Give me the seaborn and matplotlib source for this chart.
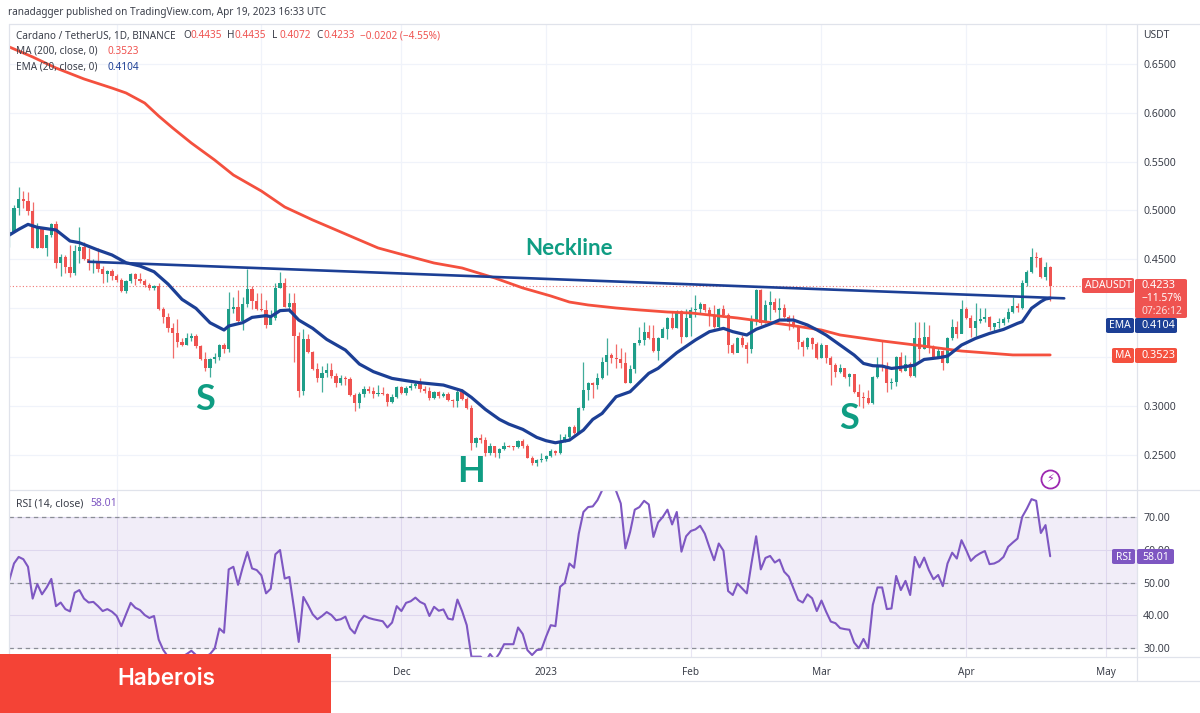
import pandas as pd
import numpy as np
import matplotlib
matplotlib.use("Agg")
import matplotlib.pyplot as plt
import seaborn as sns
from matplotlib.lines import Line2D
from matplotlib.patches import FancyBboxPatch, Rectangle

W, H = 1200, 713

# daily candles, Sep 8 2022 -> Apr 19 2023
first_day = "2022-09-08"
first_open = 0.4760
closes = [
    .4783, .5022, .5118, .5101, .4998, .4620, .4835, .4620, .4749, .4862, .4466, .4521, .4419, .4364, .4589,
    .4623, .4504, .4459, .4476, .4398, .4347, .4381, .4330, .4289, .4176, .4279, .4347, .4296, .4282, .4234,
    .4211, .4231, .3992, .3907, .3801, .3750, .3658, .3624, .3699, .3716, .3617, .3481, .3385, .3481, .3505,
    .3624, .3580, .3989, .4017, .3867, .4044, .4197, .4078, .3989, .3982, .3829, .3897, .4204, .4255, .4017,
    .4051, .3717, .3157, .3682, .3556, .3376, .3283, .3335, .3369, .3307, .3232, .3283, .3273, .3113, .3034,
    .3120, .3174, .3157, .3123, .3137, .3123, .3045, .3096, .3191, .3130, .3181, .3205, .3222,
    .3170, .3154, .3079, .3140, .3103, .3120, .3062, .3055, .3143, .3068, .2980, .2625, .2669, .2652, .2516,
    .2591, .2516, .2557, .2594, .2584, .2581, .2646, .2591, .2472, .2421, .2448, .2455, .2489, .2540, .2516,
    .2646, .2686, .2782, .2727, .2977, .3164, .3232, .3215, .3283, .3454, .3522, .3488, .3480, .3437, .3239,
    .3376, .3642, .3676, .3761, .3693, .3567, .3693, .3785, .3897, .3795, .3972, .3703, .3897, .3983, .3989,
    .4044, .3983, .3921, .3805, .3989, .3931, .3625, .3546, .3693, .3625, .3580, .3880, .4187, .3846, .4034,
    .4068, .3983, .4000, .3914, .3863, .3812, .3659, .3607, .3693, .3635, .3488, .3625, .3488, .3420, .3352,
    .3385, .3293, .3324, .3147, .3096, .3078, .3034, .3300, .3419, .3396, .3232, .3249, .3498, .3361, .3430,
    .3307, .3692, .3580, .3709, .3590, .3498, .3563, .3443, .3692, .3805, .3737, .3989, .3897, .3801, .3873,
    .3887, .3907, .3812, .3846, .3853, .3890, .3965, .4023, .3999, .4255, .4375, .4521, .4511, .4324, .4426,
    .4233,
]
highs = [
    .4818, .5056, .5244, .5199, .5193, .5090, .4869, .4835, .4749, .4876, .4896, .4555, .4545, .4647, .4647,
    .4828, .4681, .4620, .4500, .4613, .4432, .4391, .4398, .4350, .4306, .4289, .4364, .4364, .4357, .4299,
    .4255, .4241, .4255, .4016, .3948, .3846, .3887, .3692, .3743, .3750, .3737, .3624, .3549, .3494, .3539,
    .3635, .3648, .4170, .4119, .4187, .4112, .4399, .4228, .4153, .4153, .4085, .3982, .4255, .4375, .4306,
    .4153, .4153, .3761, .3785, .3737, .3566, .3437, .3410, .3444, .3437, .3335, .3318, .3311, .3300, .3130,
    .3147, .3205, .3205, .3191, .3215, .3198, .3130, .3123, .3205, .3205, .3205, .3239, .3260,
    .3283, .3205, .3198, .3154, .3157, .3147, .3147, .3068, .3164, .3171, .3089, .3010, .2680, .2710, .2687,
    .2618, .2591, .2567, .2635, .2601, .2591, .2652, .2659, .2611, .2489, .2455, .2516, .2499, .2557, .2550,
    .2710, .2710, .2796, .2802, .2993, .3454, .3249, .3243, .3335, .3505, .3693, .3539, .3631, .3590, .3556,
    .3420, .3648, .3812, .3863, .3829, .3829, .3710, .3812, .3914, .3965, .3983, .3983, .3993, .4010, .4136,
    .4068, .4044, .4017, .4034, .4000, .4034, .3948, .3642, .3703, .3727, .3659, .3931, .4194, .4201, .4085,
    .4180, .4109, .4102, .4044, .3931, .3931, .3829, .3676, .3703, .3703, .3659, .3642, .3625, .3512, .3444,
    .3430, .3375, .3341, .3317, .3225, .3147, .3164, .3307, .3505, .3675, .3454, .3283, .3511, .3556, .3522,
    .3454, .3863, .3863, .3863, .3829, .3624, .3607, .3573, .3702, .3887, .3873, .4084, .4016, .3931, .4050,
    .3999, .3999, .3921, .3853, .3897, .3914, .3999, .4112, .4057, .4289, .4392, .4613, .4573, .4521, .4470,
    .4435,
]
lows = [
    .4630, .4801, .4954, .5022, .4954, .4613, .4613, .4613, .4535, .4725, .4408, .4330, .4357, .4323, .4340,
    .4459, .4494, .4391, .4364, .4374, .4255, .4272, .4289, .4272, .4170, .4153, .4255, .4238, .4255, .4221,
    .4187, .4187, .3982, .3846, .3760, .3488, .3607, .3614, .3624, .3668, .3590, .3471, .3362, .3300, .3437,
    .3471, .3539, .3556, .3948, .3863, .3778, .4017, .3989, .3982, .3976, .3802, .3839, .3880, .4204, .4010,
    .3965, .3454, .3096, .3113, .3546, .3369, .3249, .3147, .3294, .3283, .3191, .3215, .3215, .3103, .2953,
    .2983, .3096, .3130, .3079, .3103, .3113, .3000, .3035, .3079, .3123, .3113, .3164, .3181,
    .3147, .3130, .3062, .3068, .3079, .3096, .3055, .2993, .2987, .3062, .2966, .2550, .2584, .2625, .2489,
    .2499, .2475, .2468, .2550, .2577, .2550, .2567, .2567, .2465, .2397, .2386, .2431, .2438, .2475, .2499,
    .2509, .2635, .2669, .2714, .2738, .2959, .3062, .3079, .3171, .3273, .3318, .3444, .3386, .3386, .3232,
    .3239, .3335, .3625, .3625, .3683, .3556, .3471, .3710, .3683, .3785, .3795, .3648, .3703, .3717, .3908,
    .3955, .3965, .3819, .3795, .3795, .3914, .3539, .3532, .3556, .3607, .3444, .3546, .3829, .3829, .3846,
    .3880, .3965, .3880, .3897, .3778, .3795, .3580, .3512, .3580, .3580, .3478, .3488, .3444, .3215, .3301,
    .3341, .3283, .3205, .3136, .3000, .2976, .3020, .3020, .3283, .3361, .3147, .3171, .3205, .3351, .3361,
    .3300, .3300, .3471, .3580, .3539, .3488, .3488, .3368, .3436, .3675, .3692, .3743, .3887, .3709, .3716,
    .3846, .3863, .3778, .3760, .3795, .3829, .3863, .3955, .3965, .3989, .4228, .4365, .4426, .4313, .4289,
    .4072,
]

# EMA 20 / MA 200 read at these day offsets from first_day
ema_days = [0, 2, 4, 6, 9, 10, 13, 15, 19, 22, 25, 28, 31, 34, 37, 40, 43, 46, 47, 50, 52, 55, 56, 58, 60, 62,
            65, 68, 72, 75, 78, 82, 85, 88, 93, 97, 99, 102, 105, 107, 110, 113, 115, 117, 120, 122, 123, 125,
            127, 130, 133, 137, 139, 143, 147, 150, 153, 155, 158, 160, 163, 165, 168, 171, 173, 175, 178, 181,
            183, 185, 187, 189, 191, 194, 196, 199, 201, 204, 207, 210, 213, 216, 217, 218, 219, 221, 222, 223]
ema_vals = [.4749, .4807, .4858, .4828, .4807, .4801, .4688, .4671, .4596, .4545, .4466, .4432, .4374, .4248,
            .4091, .3999, .3852, .3778, .3819, .3853, .3907, .3925, .3914, .3976, .3982, .3880, .3795, .3682,
            .3573, .3430, .3352, .3283, .3260, .3239, .3215, .3157, .3089, .2966, .2864, .2816, .2762, .2680,
            .2646, .2625, .2652, .2721, .2755, .2864, .2925, .3096, .3147, .3335, .3386, .3546, .3676, .3761,
            .3795, .3761, .3727, .3785, .3839, .3880, .3880, .3829, .3780, .3726, .3624, .3522, .3436, .3413,
            .3409, .3385, .3396, .3419, .3477, .3494, .3511, .3624, .3692, .3743, .3784, .3846, .3863, .3931,
            .4000, .4068, .4095, .4104]
ma_days = [0, 5, 10, 16, 22, 25, 29, 32, 35, 39, 44, 48, 54, 59, 65, 70, 74, 79, 83, 87, 91, 97, 104, 110, 116,
           120, 124, 130, 135, 141, 146, 156, 167, 174, 178, 187, 194, 204, 215, 223]
ma_vals = [.6672, .6570, .6457, .6345, .6252, .6202, .6099, .5966, .5844, .5690, .5516, .5363, .5199, .5036,
           .4903, .4801, .4719, .4617, .4565, .4514, .4463, .4412, .4310, .4208, .4126, .4064, .4034, .4003,
           .3983, .3962, .3952, .3901, .3829, .3778, .3727, .3666, .3625, .3563, .3523, .3523]
neck_days = [17, 226]
neck_vals = [.4476, .4102]

rsi_vals = [
    50.7, 55.8, 57.8, 57.1, 54.8, 45.1, 49.5, 46.4, 48.5, 51.1, 42.8, 43.9, 41.9, 41.2, 46.9, 47.7, 45.1, 43.9,
    44.1, 42.8, 41.3, 41.9, 41.1, 39.8, 36.7, 40.3, 43.8, 42.3, 41.6, 40.1, 39.2, 39.8, 32.6, 29.4, 27.4, 26.9,
    26.4, 27.4, 28.2, 29.2, 27.9, 26.4, 27.4, 28.2, 29.9, 36.0, 34.7, 54.0, 54.8, 49.3, 54.6, 59.3, 54.3, 53.8,
    52.2, 46.7, 48.1, 58.6, 59.9, 51.2, 51.7, 42.1, 31.9, 45.6, 43.1, 40.3, 38.8, 39.8, 41.0, 40.1, 38.5, 38.8,
    39.6, 36.0, 34.5, 38.0, 39.9, 39.2, 38.8, 38.5, 38.2, 36.3, 37.8, 42.8, 41.3, 43.8, 44.3, 45.4, 44.1, 43.4,
    39.8, 42.6, 41.4, 41.8, 39.0, 38.7, 44.8, 41.3, 37.0, 27.4, 27.4, 27.4, 25.8, 28.2, 26.4, 28.4, 31.2, 31.2,
    31.2, 36.3, 34.3, 29.4, 27.9, 29.4, 29.6, 33.5, 37.0, 36.7, 48.7, 49.9, 55.8, 54.5, 64.9, 71.5, 73.0, 73.2,
    75.1, 78.1, 80.0, 82.0, 77.9, 74.1, 60.4, 65.4, 72.2, 73.0, 74.9, 73.8, 63.9, 68.3, 70.0, 72.2, 67.7, 71.5,
    59.4, 64.1, 65.7, 66.2, 67.3, 64.9, 60.7, 56.8, 61.9, 59.7, 47.4, 46.2, 49.7, 48.2, 46.7, 55.8, 64.1, 54.0,
    57.5, 58.1, 56.1, 57.0, 53.3, 51.8, 48.2, 44.7, 43.9, 46.4, 45.2, 41.3, 44.5, 41.1, 38.1, 37.6, 36.1, 35.8,
    35.6, 31.7, 30.0, 32.8, 30.0, 43.2, 48.5, 48.5, 41.9, 42.1, 52.0, 47.7, 50.5, 46.2, 57.8, 54.6, 57.6, 53.8,
    51.0, 52.3, 48.9, 55.8, 59.1, 57.3, 62.9, 59.9, 56.6, 58.0, 58.9, 59.6, 55.6, 55.8, 56.5, 57.8, 60.9, 62.2,
    63.4, 70.0, 72.5, 75.4, 74.9, 65.1, 67.5, 58.01,
]

price_ticks = [0.25, 0.30, 0.35, 0.40, 0.45, 0.50, 0.55, 0.60, 0.65]
# 0.35 and 0.40 sit behind the price tags in the original
price_labels = ["0.2500", "0.3000", "", "", "0.4500", "0.5000", "0.5500", "0.6000", "0.6500"]
rsi_ticks = [30, 40, 50, 60, 70]
month_ticks = ["2022-10-01", "2022-11-01", "2022-12-01", "2023-01-01", "2023-02-01", "2023-03-01", "2023-04-01", "2023-05-01"]
# Oct and Nov are under the banner
month_labels = ["", "", "Dec", "2023", "Feb", "Mar", "Apr", "May"]

GREEN = "#1f9e89"
RED = "#ef5350"
NAVY = "#1c3f95"
MA_RED = "#f4503e"
PURPLE = "#7e57c2"
GRID = "#f0f3fa"
BORDER = "#e0e3eb"
TEXT = "#3b3f4a"
LABEL = "#0f9d83"

sns.set_theme(style="white")
plt.rcParams["font.family"] = ["Noto Sans", "DejaVu Sans"]


def px_axes(fig, x0, y0, x1, y1):
    return fig.add_axes([x0 / W, 1 - y1 / H, (x1 - x0) / W, (y1 - y0) / H])


def txt(fig, x, y, s, color=TEXT, size=7.2, ha="left", zorder=6, **kw):
    return fig.text(x / W, 1 - y / H, s, color=color, fontsize=size, ha=ha, va="center", zorder=zorder, **kw)


def tag(fig, x0, y0, x1, y1, color):
    fig.add_artist(FancyBboxPatch((x0 / W, 1 - y1 / H), (x1 - x0) / W, (y1 - y0) / H,
                                  boxstyle="round,pad=0,rounding_size=0.002", fc=color, ec="none", zorder=5,
                                  transform=fig.transFigure))


fig = plt.figure(figsize=(W / 100, H / 100), dpi=100, facecolor="white")
ax = px_axes(fig, 9, 24, 1137, 490)
ax_rsi = px_axes(fig, 9, 490, 1137, 657)

start = pd.Timestamp(first_day)
dates = pd.date_range(start, periods=len(closes))
opens = [first_open] + closes[:-1]
df = pd.DataFrame({"date": dates, "open": opens, "high": highs, "low": lows, "close": closes, "rsi": rsi_vals})
df["color"] = np.where(df["close"] >= df["open"], GREEN, RED)

xlim = (start - pd.Timedelta(days=0.07), start + pd.Timedelta(days=241.6))
month_dates = pd.to_datetime(month_ticks)

# candles
ax.vlines(df["date"], df["low"], df["high"], colors=df["color"], linewidth=0.9, alpha=0.85, zorder=3)
ax.bar(df["date"], (df["close"] - df["open"]).abs().clip(lower=0.0012), bottom=df[["open", "close"]].min(axis=1),
       width=0.68, color=df["color"], linewidth=0, zorder=3)

ema = pd.DataFrame({"date": start + pd.to_timedelta(ema_days, unit="D"), "v": ema_vals})
ma = pd.DataFrame({"date": start + pd.to_timedelta(ma_days, unit="D"), "v": ma_vals})
neck = pd.DataFrame({"date": start + pd.to_timedelta(neck_days, unit="D"), "v": neck_vals})
sns.lineplot(data=ma, x="date", y="v", ax=ax, color=MA_RED, linewidth=2.0, zorder=4, estimator=None)
sns.lineplot(data=neck, x="date", y="v", ax=ax, color=NAVY, linewidth=1.9, zorder=5, estimator=None)
sns.lineplot(data=ema, x="date", y="v", ax=ax, color=NAVY, linewidth=2.3, zorder=5, estimator=None)

ax.axhline(closes[-1], color=RED, linestyle=(0, (1, 2)), linewidth=0.8, alpha=0.8, zorder=2)

ax.set_xlim(xlim)
ax.set_ylim(0.2142, 0.6907)
ax.set_yticks(price_ticks)
ax.set_yticklabels(price_labels)
ax.set_xticks(month_dates)
ax.set_xticklabels([])
ax.yaxis.tick_right()
ax.grid(True, color=GRID, linewidth=0.9, zorder=0)
ax.set_axisbelow(True)
ax.set_xlabel("")
ax.set_ylabel("")
ax.tick_params(axis="y", length=0, pad=4.5, labelsize=7.6, labelcolor=TEXT)
ax.tick_params(axis="x", length=0)

label_font = ["Lato", "DejaVu Sans"]
ax.text(pd.Timestamp("2023-01-06"), 0.4615, "Neckline", color=LABEL, fontsize=16, fontweight="bold", family=label_font, ha="center", va="center")
ax.text(pd.Timestamp("2022-10-20"), 0.3065, "S", color=LABEL, fontsize=26, fontweight="bold", family=label_font, ha="center", va="center")
ax.text(pd.Timestamp("2022-12-16"), 0.2330, "H", color=LABEL, fontsize=26, fontweight="bold", family=label_font, ha="center", va="center")
ax.text(pd.Timestamp("2023-03-07"), 0.2870, "S", color=LABEL, fontsize=26, fontweight="bold", family=label_font, ha="center", va="center")

# RSI pane
ax_rsi.axhspan(30, 70, color=PURPLE, alpha=0.10, linewidth=0, zorder=1)
for lvl in [30, 50, 70]:
    ax_rsi.axhline(lvl, color="#8a8d96", linestyle=(0, (3.5, 3)), linewidth=0.9, zorder=2)
sns.lineplot(data=df, x="date", y="rsi", ax=ax_rsi, color=PURPLE, linewidth=1.5, zorder=4, estimator=None)
ax_rsi.set_xlim(xlim)
ax_rsi.set_ylim(27.3, 78.2)
ax_rsi.set_yticks(rsi_ticks)
ax_rsi.set_yticklabels([f"{t:.2f}" for t in rsi_ticks])
ax_rsi.yaxis.tick_right()
ax_rsi.set_xticks(month_dates)
ax_rsi.set_xticklabels(month_labels)
ax_rsi.grid(True, color="#e9e6f4", linewidth=0.8, zorder=0)
ax_rsi.set_axisbelow(True)
ax_rsi.set_xlabel("")
ax_rsi.set_ylabel("")
ax_rsi.tick_params(axis="y", length=0, pad=4.5, labelsize=7.6, labelcolor=TEXT)
ax_rsi.tick_params(axis="x", length=0, pad=7, labelsize=7.2, labelcolor=TEXT)

for a in (ax, ax_rsi):
    for side in a.spines:
        a.spines[side].set_visible(False)

# pane borders
for x0, y0, x1, y1 in [(9, 24, 1200, 24), (9, 490, 1200, 490), (9, 657, 1200, 657), (9, 681, 1200, 681),
                       (1137, 24, 1137, 681), (9, 24, 9, 681)]:
    fig.add_artist(Line2D([x0 / W, x1 / W], [1 - y0 / H, 1 - y1 / H], color=BORDER, linewidth=0.9, zorder=3))

# header and legend text
txt(fig, 8, 13, "ranadagger published on TradingView.com, Apr 19, 2023 16:33 UTC")
txt(fig, 16, 36, "Cardano / TetherUS, 1D, BINANCE")
for x, lab, val in [(183, "O", "0.4435"), (227, "H", "0.4435"), (272, "L", "0.4072"), (316, "C", "0.4233")]:
    txt(fig, x, 36, lab)
    txt(fig, x + 7.5, 36, val, color=RED)
txt(fig, 360, 36, "\u22120.0202 (\u22124.55%)", color=RED)
txt(fig, 16, 51, "MA (200, close, 0)")
txt(fig, 107, 51, "0.3523", color=RED)
txt(fig, 16, 67, "EMA (20, close, 0)")
txt(fig, 107, 67, "0.4104", color=NAVY)
txt(fig, 16, 504, "RSI (14, close)", size=7.5)
txt(fig, 90, 504, "58.01", color=PURPLE, size=7.5)
txt(fig, 1143, 35, "USDT", size=7.4)

# price tags on the right
tag(fig, 1082, 278, 1134, 293, RED)
txt(fig, 1108, 285.5, "ADAUSDT", color="white", size=7.4, ha="center")
tag(fig, 1135, 279, 1187, 318, RED)
txt(fig, 1142, 286, "0.4233", color="white", size=7.8)
txt(fig, 1142, 298, "\u221211.57%", color="white", size=7.4)
txt(fig, 1142, 311, "07:26:12", color="#fbdcdb", size=7.4)
tag(fig, 1106, 318, 1134, 333, NAVY)
txt(fig, 1120, 326, "EMA", color="white", size=7.4, ha="center")
tag(fig, 1135, 318, 1177, 333, NAVY)
txt(fig, 1142, 326, "0.4104", color="white", size=7.8)
tag(fig, 1112, 348, 1134, 363, MA_RED)
txt(fig, 1123, 356, "MA", color="white", size=7.4, ha="center")
tag(fig, 1135, 348, 1177, 363, MA_RED)
txt(fig, 1142, 356, "0.3523", color="white", size=7.8)
tag(fig, 1112, 549, 1135, 564, PURPLE)
txt(fig, 1123.5, 557, "RSI", color="white", size=7.4, ha="center")
tag(fig, 1137, 549, 1174, 564, PURPLE)
txt(fig, 1142, 557, "58.01", color="white", size=7.6, fontweight="bold")

# lightning marker above the last bar
ax.scatter([dates[-1]], [0.2255], s=170, facecolor="white", edgecolor="#9c27b0", linewidth=1.3, zorder=6, clip_on=False)
ax.text(dates[-1], 0.2255, "\u26a1", color="#9c27b0", fontsize=8, ha="center", va="center", zorder=7,
        family=["DejaVu Sans"], clip_on=False)

# site banner
fig.add_artist(Rectangle((0, 0), 331 / W, (H - 654) / H, fc="#f44336", ec="none", zorder=8, transform=fig.transFigure))
txt(fig, 166, 679, "Haberois", color="white", size=16.2, ha="center", zorder=9, fontweight="semibold", family=["Inter", "DejaVu Sans"])

fig.savefig("out.png", dpi=100)
